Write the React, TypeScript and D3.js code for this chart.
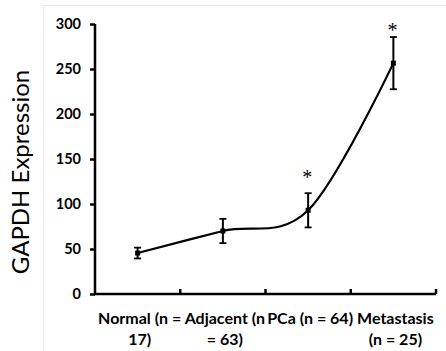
import React, { useEffect, useRef } from 'react'
import * as d3 from 'd3'

const categories = ['Normal', 'Adjacent', 'PCa', 'Metastasis']
const labelLines = [['Normal (n =', '17)'], ['Adjacent (n', '= 63)'], ['PCa (n = 64)'], ['Metastasis', '(n = 25)']]
const means = [45.5, 70, 93, 256.5]
const errors = [6, 13.5, 19, 29]
const significant = [false, false, true, true]
const yTicks = [0, 50, 100, 150, 200, 250, 300]

const App = () => {
  const ref = useRef<SVGSVGElement>(null)

  useEffect(() => {
    const svg = d3.select(ref.current)
    svg.selectAll('*').remove()

    const left = 95
    const right = 436
    const top = 24
    const bottom = 294

    const x = d3.scaleBand<string>().domain(categories).range([left, right]).paddingInner(0).paddingOuter(0)
    const y = d3.scaleLinear().domain([0, 300]).range([bottom, top])
    const cx = (c: string) => (x(c) as number) + x.bandwidth() / 2

    const data = categories.map((c, i) => ({ c, m: means[i], e: errors[i], s: significant[i] }))

    svg // chart frame
      .append('rect')
      .attr('x', 43.5)
      .attr('y', 5.5)
      .attr('width', 500)
      .attr('height', 500)
      .attr('fill', 'none')
      .attr('stroke', '#e8e8e8')

    svg // yaxis
      .append('g')
      .attr('transform', `translate(${left}, 0)`)
      .call(d3.axisLeft(y).tickValues(yTicks).tickSize(5).tickPadding(9))
      .call(g => g.select('.domain').attr('stroke-width', 2.5).attr('d', `M0,${top}V${bottom}`))
      .call(g => g.selectAll('.tick line').attr('stroke-width', 2.5))
      .call(g =>
        g
          .selectAll('.tick text')
          .attr('font-family', 'Lato')
          .attr('font-weight', 'bold')
          .attr('font-size', 14.5)
          .attr('fill', '#000')
      )

    svg // xaxis
      .append('line')
      .attr('x1', left)
      .attr('x2', right)
      .attr('y1', bottom)
      .attr('y2', bottom)
      .attr('stroke', '#000')
      .attr('stroke-width', 2.5)

    svg
      .append('g')
      .selectAll('line')
      .data(categories)
      .enter()
      .append('line')
      .attr('x1', d => (x(d) as number) + x.bandwidth())
      .attr('x2', d => (x(d) as number) + x.bandwidth())
      .attr('y1', bottom)
      .attr('y2', bottom - 5)
      .attr('stroke', '#000')
      .attr('stroke-width', 2.5)

    svg // category labels
      .append('g')
      .selectAll('text')
      .data(categories)
      .enter()
      .append('text')
      .attr('text-anchor', 'middle')
      .attr('font-family', 'Lato')
      .attr('font-weight', 'bold')
      .attr('font-size', 16)
      .each(function (d, i) {
        d3.select(this)
          .selectAll('tspan')
          .data(labelLines[i])
          .enter()
          .append('tspan')
          .attr('x', cx(d) + 2)
          .attr('y', (_, j) => 324 + j * 21)
          .text(t => t)
      })

    svg // ylab
      .append('text')
      .text('GAPDH Expression')
      .attr('transform', 'rotate(-90)')
      .attr('text-anchor', 'middle')
      .attr('font-family', 'Lato')
      .attr('font-size', 24)
      .attr('x', -172)
      .attr('y', 29)

    const line = d3
      .line<(typeof data)[number]>()
      .x(d => cx(d.c))
      .y(d => y(d.m))
      .curve(d3.curveCatmullRom.alpha(0))

    svg
      .append('path')
      .datum(data)
      .attr('d', line)
      .attr('fill', 'none')
      .attr('stroke', '#000')
      .attr('stroke-width', 2.2)

    const bars = svg.append('g').selectAll('g').data(data).enter().append('g')
    bars
      .append('line')
      .attr('x1', d => cx(d.c))
      .attr('x2', d => cx(d.c))
      .attr('y1', d => y(d.m - d.e))
      .attr('y2', d => y(d.m + d.e))
      .attr('stroke', '#000')
      .attr('stroke-width', 2)
    bars
      .selectAll('.cap')
      .data(d => [d.m - d.e, d.m + d.e].map(v => ({ c: d.c, v })))
      .enter()
      .append('line')
      .attr('x1', d => cx(d.c) - 3.5)
      .attr('x2', d => cx(d.c) + 3.5)
      .attr('y1', d => y(d.v))
      .attr('y2', d => y(d.v))
      .attr('stroke', '#000')
      .attr('stroke-width', 1.8)
    bars
      .append('rect')
      .attr('x', d => cx(d.c) - 2.5)
      .attr('y', d => y(d.m) - 2.5)
      .attr('width', 5)
      .attr('height', 5)
      .attr('fill', '#000')

    svg // significance stars
      .append('g')
      .selectAll('text')
      .data(data.filter(d => d.s))
      .enter()
      .append('text')
      .text('*')
      .attr('text-anchor', 'middle')
      .attr('font-family', 'Liberation Serif')
      .attr('font-size', 20)
      .attr('x', d => cx(d.c) - 1)
      .attr('y', d => y(d.m) - 26)
  }, [])

  return (
    <svg
      ref={ref}
      width={446}
      height={351}
      style={{ position: 'absolute', left: 0, top: 0, background: '#fff' }}
    />
  )
}

export default App
